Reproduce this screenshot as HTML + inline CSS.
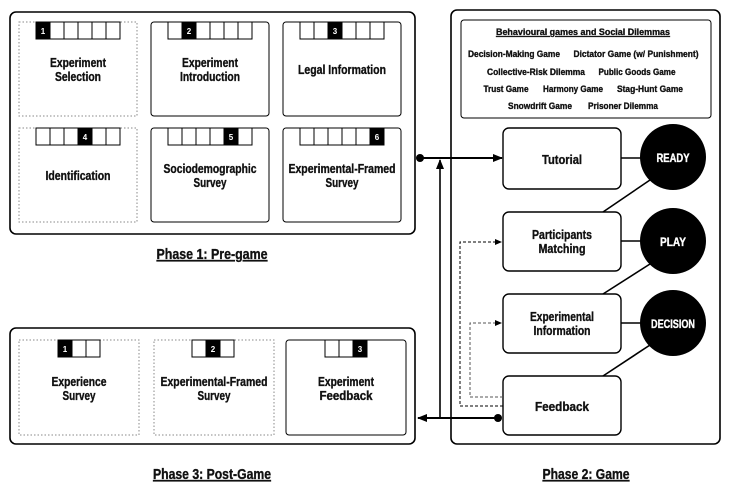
<!DOCTYPE html>
<html><head><meta charset="utf-8"><style>
body{margin:0;background:#fff}
svg{display:block}
text{font-family:"Liberation Sans Narrow","Liberation Sans",sans-serif;font-weight:bold;fill:#111;stroke:#111;stroke-width:0.35;text-anchor:middle}
</style></head><body>
<svg width="730" height="495" viewBox="0 0 730 495" xmlns="http://www.w3.org/2000/svg">
<defs>
<marker id="ah" markerWidth="10" markerHeight="8" refX="9" refY="4" orient="auto" markerUnits="userSpaceOnUse"><path d="M0,0 L10,4 L0,8 z" fill="#000"/></marker>
<marker id="ahs" markerWidth="7" markerHeight="6" refX="6" refY="3" orient="auto" markerUnits="userSpaceOnUse"><path d="M0,0 L7,3 L0,6 z" fill="#000"/></marker>
</defs>
<g fill="none" stroke="#000">
<rect x="10" y="12" width="405" height="222" rx="6" stroke-width="1.6"/>
<rect x="19" y="22" width="118" height="94" stroke="#888" stroke-dasharray="1.5,2"/>
<rect x="151" y="22" width="118" height="94" rx="3"/>
<rect x="283" y="22" width="118" height="94" rx="3"/>
<rect x="19" y="128" width="118" height="94" stroke="#888" stroke-dasharray="1.5,2"/>
<rect x="151" y="128" width="118" height="94" rx="3"/>
<rect x="283" y="128" width="118" height="94" rx="3"/>
<rect x="10" y="328" width="405" height="116" rx="6" stroke-width="1.6"/>
<rect x="19" y="340" width="120" height="95" stroke="#888" stroke-dasharray="1.5,2"/>
<rect x="154" y="340" width="120" height="95" stroke="#888" stroke-dasharray="1.5,2"/>
<rect x="286" y="340" width="120" height="95" rx="3"/>
<rect x="451" y="10" width="269" height="434" rx="6" stroke-width="1.6"/>
<rect x="461" y="20" width="250" height="98" rx="3"/>
<rect x="503" y="128" width="118" height="61" rx="6" stroke-width="1.4"/>
<rect x="503" y="212" width="118" height="59" rx="6" stroke-width="1.4"/>
<rect x="503" y="294" width="118" height="59" rx="6" stroke-width="1.4"/>
<rect x="503" y="376" width="118" height="59" rx="6" stroke-width="1.4"/>
<g stroke-width="1.6">
<line x1="621" y1="158" x2="645" y2="158"/>
<line x1="621" y1="241" x2="645" y2="241"/>
<line x1="621" y1="323" x2="645" y2="323"/>
<line x1="603" y1="212" x2="650" y2="180"/>
<line x1="603" y1="294" x2="650" y2="264"/>
<line x1="603" y1="376" x2="650" y2="345"/>
</g>
<line x1="420" y1="158" x2="502" y2="158" stroke-width="2" marker-end="url(#ah)"/>
<line x1="440" y1="418" x2="440" y2="160" stroke-width="1.6" marker-end="url(#ah)"/>
<line x1="498" y1="418" x2="418" y2="418" stroke-width="2" marker-end="url(#ah)"/>
<polyline points="503,406 460,406 460,242 501,242" stroke-dasharray="3,2" marker-end="url(#ahs)"/>
<polyline points="503,397 470,397 470,323 501,323" stroke-dasharray="3,2" stroke="#555" marker-end="url(#ahs)"/>
</g>
<circle cx="420" cy="158" r="4"/>
<circle cx="498" cy="418" r="4"/>
<circle cx="673" cy="157" r="33"/>
<circle cx="673" cy="241" r="33"/>
<circle cx="673" cy="323" r="33"/>
<g fill="#fff" stroke="#000">
<rect x="36" y="22" width="84" height="17"/><rect x="168" y="22" width="84" height="17"/><rect x="300" y="22" width="84" height="17"/>
<rect x="36" y="128" width="84" height="17"/><rect x="168" y="128" width="84" height="17"/><rect x="300" y="128" width="84" height="17"/>
<rect x="58" y="340" width="42" height="17"/><rect x="192" y="340" width="42" height="17"/><rect x="325" y="340" width="42" height="17"/>
</g>
<g stroke="#000" stroke-width="1">
<path d="M50,22v17M64,22v17M78,22v17M92,22v17M106,22v17 M182,22v17M196,22v17M210,22v17M224,22v17M238,22v17 M314,22v17M328,22v17M342,22v17M356,22v17M370,22v17 M50,128v17M64,128v17M78,128v17M92,128v17M106,128v17 M182,128v17M196,128v17M210,128v17M224,128v17M238,128v17 M314,128v17M328,128v17M342,128v17M356,128v17M370,128v17 M72,340v17M86,340v17 M206,340v17M220,340v17 M339,340v17M353,340v17"/>
</g>
<g fill="#000">
<rect x="36" y="22" width="14" height="17"/><rect x="182" y="22" width="14" height="17"/><rect x="328" y="22" width="14" height="17"/>
<rect x="78" y="128" width="14" height="17"/><rect x="224" y="128" width="14" height="17"/><rect x="370" y="128" width="14" height="17"/>
<rect x="58" y="340" width="14" height="17"/><rect x="206" y="340" width="14" height="17"/><rect x="353" y="340" width="14" height="17"/>
</g>
<g font-size="8">
<text x="43" y="34" style="fill:#fff;stroke:none">1</text><text x="189" y="34" style="fill:#fff;stroke:none">2</text><text x="335" y="34" style="fill:#fff;stroke:none">3</text>
<text x="85" y="140" style="fill:#fff;stroke:none">4</text><text x="231" y="140" style="fill:#fff;stroke:none">5</text><text x="377" y="140" style="fill:#fff;stroke:none">6</text>
<text x="65" y="352" style="fill:#fff;stroke:none">1</text><text x="213" y="352" style="fill:#fff;stroke:none">2</text><text x="360" y="352" style="fill:#fff;stroke:none">3</text>
</g>
<g font-size="12.5">
<text x="78" y="67" textLength="56" lengthAdjust="spacingAndGlyphs">Experiment</text><text x="78" y="81" textLength="46" lengthAdjust="spacingAndGlyphs">Selection</text>
<text x="210" y="67" textLength="56" lengthAdjust="spacingAndGlyphs">Experiment</text><text x="210" y="81" textLength="60" lengthAdjust="spacingAndGlyphs">Introduction</text>
<text x="342" y="74" textLength="88" lengthAdjust="spacingAndGlyphs">Legal Information</text>
<text x="78" y="180" textLength="65" lengthAdjust="spacingAndGlyphs">Identification</text>
<text x="210" y="173" textLength="93" lengthAdjust="spacingAndGlyphs">Sociodemographic</text><text x="210" y="187" textLength="33" lengthAdjust="spacingAndGlyphs">Survey</text>
<text x="342" y="173" textLength="107" lengthAdjust="spacingAndGlyphs">Experimental-Framed</text><text x="342" y="187" textLength="33" lengthAdjust="spacingAndGlyphs">Survey</text>
<text x="79" y="386" textLength="55" lengthAdjust="spacingAndGlyphs">Experience</text><text x="79" y="400" textLength="33" lengthAdjust="spacingAndGlyphs">Survey</text>
<text x="214" y="386" textLength="107" lengthAdjust="spacingAndGlyphs">Experimental-Framed</text><text x="214" y="400" textLength="33" lengthAdjust="spacingAndGlyphs">Survey</text>
<text x="346" y="386" textLength="56" lengthAdjust="spacingAndGlyphs">Experiment</text><text x="346" y="400" textLength="53" lengthAdjust="spacingAndGlyphs">Feedback</text>
<text x="562" y="164" textLength="40" lengthAdjust="spacingAndGlyphs">Tutorial</text>
<text x="562" y="239" textLength="60" lengthAdjust="spacingAndGlyphs">Participants</text><text x="562" y="253" textLength="47" lengthAdjust="spacingAndGlyphs">Matching</text>
<text x="562" y="321" textLength="64" lengthAdjust="spacingAndGlyphs">Experimental</text><text x="562" y="335" textLength="57" lengthAdjust="spacingAndGlyphs">Information</text>
<text x="562" y="411" textLength="54" lengthAdjust="spacingAndGlyphs">Feedback</text>
</g>
<g font-size="11.5">
<text x="673" y="162" style="fill:#fff;stroke:#fff" textLength="33" lengthAdjust="spacingAndGlyphs">READY</text>
<text x="673" y="246" style="fill:#fff;stroke:#fff" textLength="26" lengthAdjust="spacingAndGlyphs">PLAY</text>
<text x="673" y="328" style="fill:#fff;stroke:#fff" textLength="44" lengthAdjust="spacingAndGlyphs">DECISION</text>
</g>
<g font-size="9.5" style="stroke-width:0.25">
<text x="583" y="35" text-decoration="underline" textLength="174" lengthAdjust="spacingAndGlyphs">Behavioural games and Social Dilemmas</text>
<text x="514" y="57" textLength="92" lengthAdjust="spacingAndGlyphs">Decision-Making Game</text><text x="636" y="57" textLength="125" lengthAdjust="spacingAndGlyphs">Dictator Game (w/ Punishment)</text>
<text x="536" y="75" textLength="98" lengthAdjust="spacingAndGlyphs">Collective-Risk Dilemma</text><text x="637" y="75" textLength="77" lengthAdjust="spacingAndGlyphs">Public Goods Game</text>
<text x="506" y="92" textLength="45" lengthAdjust="spacingAndGlyphs">Trust Game</text><text x="573" y="92" textLength="60" lengthAdjust="spacingAndGlyphs">Harmony Game</text><text x="650" y="92" textLength="66" lengthAdjust="spacingAndGlyphs">Stag-Hunt Game</text>
<text x="540" y="109" textLength="64" lengthAdjust="spacingAndGlyphs">Snowdrift Game</text><text x="623" y="109" textLength="70" lengthAdjust="spacingAndGlyphs">Prisoner Dilemma</text>
</g>
<g font-size="14.5">
<text x="212" y="259" text-decoration="underline" textLength="111" lengthAdjust="spacingAndGlyphs">Phase 1: Pre-game</text>
<text x="212" y="479" text-decoration="underline" textLength="118" lengthAdjust="spacingAndGlyphs">Phase 3: Post-Game</text>
<text x="586" y="479" text-decoration="underline" textLength="87" lengthAdjust="spacingAndGlyphs">Phase 2: Game</text>
</g>
</svg>
</body></html>
